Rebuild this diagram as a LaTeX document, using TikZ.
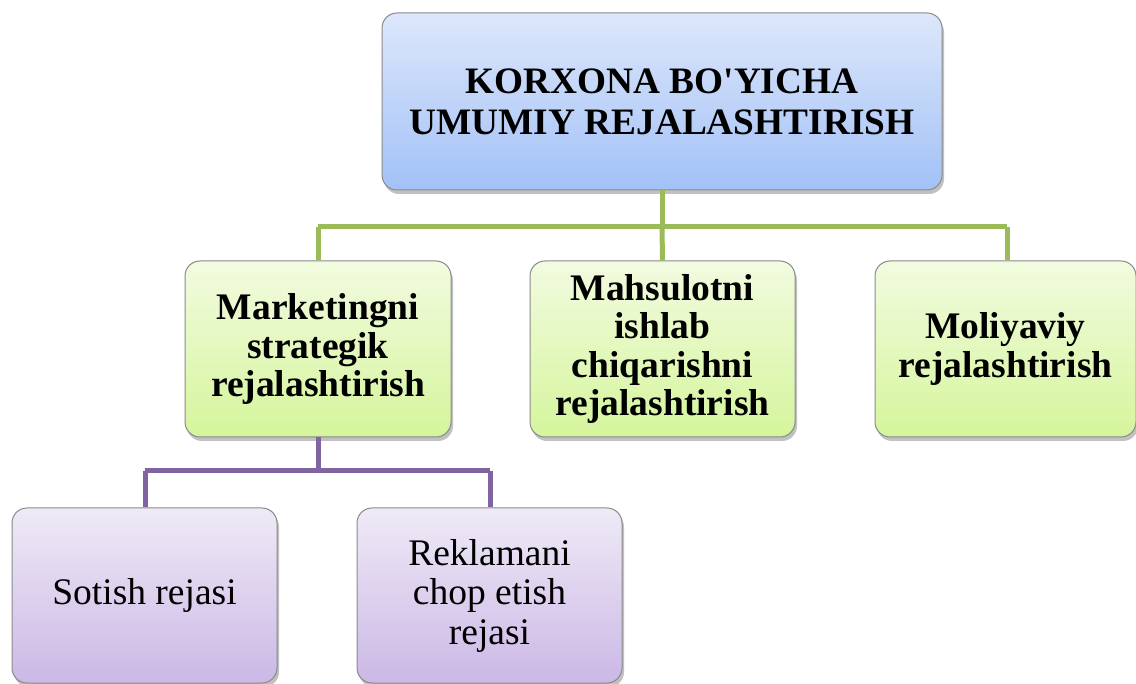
\documentclass[tikz,border=0pt]{standalone}
\usepackage{fontspec}
\setmainfont{Liberation Serif}
\usetikzlibrary{shadows}
\definecolor{blueT}{HTML}{DDE7FB}
\definecolor{blueB}{HTML}{A2C1F6}
\definecolor{greenT}{HTML}{F2FBE0}
\definecolor{greenB}{HTML}{D5F59C}
\definecolor{purpT}{HTML}{EFEAF6}
\definecolor{purpB}{HTML}{CBB8E6}
\definecolor{lnGreen}{HTML}{9BBB59}
\definecolor{lnPurp}{HTML}{8064A2}
\definecolor{edgeGray}{HTML}{8A8A8A}
\tikzset{
  box/.style={draw=edgeGray, line width=1pt, rounded corners=15pt, align=center,
    inner sep=0pt, drop shadow={shadow xshift=2pt, shadow yshift=-4pt, opacity=0.35, fill=black!70}},
  topbox/.style={box, top color=blueT, bottom color=blueB, minimum width=560pt, minimum height=177pt,
    font=\fontsize{37.3}{41}\selectfont\bfseries},
  gbox/.style={box, top color=greenT, bottom color=greenB, minimum height=176pt,
    font=\fontsize{37.5}{38.5}\selectfont\bfseries},
  pbox/.style={box, top color=purpT, bottom color=purpB, minimum width=265pt, minimum height=175pt,
    font=\fontsize{37.5}{39.5}\selectfont},
  gline/.style={draw=lnGreen, line width=5pt},
  pline/.style={draw=lnPurp, line width=5pt},
}
\begin{document}
\begin{tikzpicture}[x=1pt,y=-1pt]
\useasboundingbox (0,0) rectangle (1136,684);
\node[topbox] (top) at (662,101.5) {KORXONA BO\textquotesingle YICHA\\UMUMIY REJALASHTIRISH};
\coordinate (tj) at (662,227);
\coordinate (jl) at (318,227);
\coordinate (jr) at (1007,227);
\node[gbox, minimum width=266pt] (g1) at (318,349) {Marketingni\\strategik\\rejalashtirish};
\node[gbox, minimum width=265pt] (g2) at (662.5,349) {Mahsulotni\\ishlab\\chiqarishni\\rejalashtirish};
\node[gbox, minimum width=261pt] (g3) at (1005.5,349) {Moliyaviy\\rejalashtirish};
\coordinate (pj) at (318,471);
\coordinate (pl) at (145,471);
\coordinate (pr) at (490,471);
\node[pbox] (p1) at (144.5,595.5) {Sotish rejasi};
\node[pbox] (p2) at (489.5,595.5) {Reklamani\\chop etish\\rejasi};
\draw[gline] (top.south) -- (tj);
\draw[gline] (jl) -- (jr);
\draw[gline] (jl) -- (g1.north);
\draw[gline] (tj) -- (g2.north);
\draw[gline] (jr) -- (g3.north -| jr);
\draw[pline] (g1.south) -- (pj);
\draw[pline] (pl) -- (pr);
\draw[pline] (pl) -- (p1.north -| pl);
\draw[pline] (pr) -- (p2.north -| pr);
\end{tikzpicture}
\end{document}
